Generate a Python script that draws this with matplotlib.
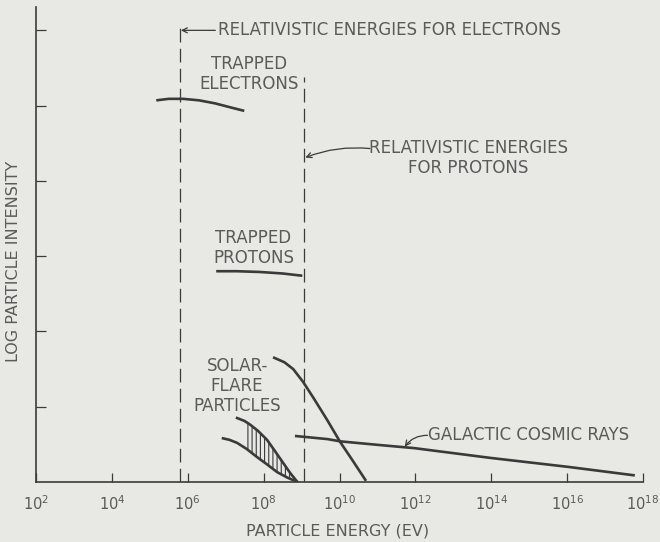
import numpy as np
import matplotlib
matplotlib.use("Agg")
import matplotlib.pyplot as plt

# ---- data (log10 energy in eV, log intensity in arbitrary units) ----
x_ticks_exp = [2, 4, 6, 8, 10, 12, 14, 16, 18]
y_ticks = [1, 2, 3, 4, 5, 6]

electrons_logE = [5.17, 5.50, 5.88, 6.30, 6.72, 7.10, 7.49]
electrons_I = [5.07, 5.09, 5.09, 5.07, 5.03, 4.98, 4.93]

protons_logE = [6.75, 7.30, 7.90, 8.50, 9.02]
protons_I = [2.80, 2.80, 2.79, 2.77, 2.74]

flare_upper_logE = [7.30, 7.50, 7.65, 7.85, 8.09, 8.30, 8.52, 8.70, 8.89]
flare_upper_I = [0.85, 0.81, 0.76, 0.68, 0.56, 0.41, 0.25, 0.12, 0.00]
flare_lower_logE = [6.93, 7.10, 7.30, 7.55, 7.83, 8.10, 8.36, 8.62, 8.89]
flare_lower_I = [0.58, 0.56, 0.52, 0.44, 0.33, 0.23, 0.13, 0.06, 0.00]

steep_logE = [8.28, 8.55, 8.78, 9.04, 9.31, 9.68, 10.02, 10.34, 10.68]
steep_I = [1.65, 1.59, 1.50, 1.33, 1.12, 0.82, 0.53, 0.29, 0.03]

galactic_logE = [8.86, 9.68, 10.02, 11.08, 11.97, 13.98, 16.04, 17.75]
galactic_I = [0.61, 0.57, 0.54, 0.49, 0.45, 0.32, 0.20, 0.09]

electron_rel_logE = 5.79
proton_rel_logE = 9.07

# ---- style ----
BG = "#e8e8e4"
INK = "#3a3a3a"
TXT = "#5a5a5a"
plt.rcParams["font.family"] = ["DejaVu Sans"]
plt.rcParams["hatch.linewidth"] = 0.8

fig = plt.figure(figsize=(6.6, 5.42), dpi=100, facecolor=BG)
W, H = 660, 542
ax = fig.add_axes([36 / W, (H - 482) / H, (643 - 36) / W, (482 - 7) / H])
ax.set_facecolor(BG)
ax.set_xscale("log")
ax.set_xlim(1e2, 1e18)
ax.set_ylim(0, 6.31)

for s in ["top", "right"]:
    ax.spines[s].set_visible(False)
for s in ["left", "bottom"]:
    ax.spines[s].set_color(INK)
    ax.spines[s].set_linewidth(1.2)

ax.set_xticks([10.0 ** e for e in x_ticks_exp])
ax.set_xticklabels([r"$\mathregular{10^{%d}}$" % e for e in x_ticks_exp])
ax.xaxis.set_minor_locator(matplotlib.ticker.NullLocator())
ax.tick_params(axis="x", direction="in", length=6.5, width=0.9, color=INK,
               labelsize=10.5, labelcolor=TXT, pad=9)
ax.set_yticks(y_ticks)
ax.set_yticklabels([])
ax.tick_params(axis="y", direction="in", length=7, width=0.9, color=INK)

fs = 12
fig.text(338 / W, 1 - 531 / H, "PARTICLE ENERGY (EV)", ha="center", va="center",
         fontsize=11.5, color=TXT)
fig.text(14 / W, 1 - 261 / H, "LOG PARTICLE INTENSITY", ha="center", va="center",
         rotation=90, fontsize=11.5, color=TXT)

def E(v):
    return 10.0 ** np.asarray(v)

lw = 1.9
ax.plot(E(electrons_logE), electrons_I, color=INK, lw=lw, solid_capstyle="butt")
ax.plot(E(protons_logE), protons_I, color=INK, lw=lw, solid_capstyle="butt")
ax.plot(E(flare_upper_logE), flare_upper_I, color=INK, lw=lw)
ax.plot(E(flare_lower_logE), flare_lower_I, color=INK, lw=lw)
ax.plot(E(steep_logE), steep_I, color=INK, lw=lw)
ax.plot(E(galactic_logE), galactic_I, color=INK, lw=lw)

# hatched region between the solar-flare curves
start = 7.50
poly_x = [x for x in flare_upper_logE if x >= start] + \
         [x for x in flare_lower_logE[::-1] if x >= start]
poly_y = [y for x, y in zip(flare_upper_logE, flare_upper_I) if x >= start] + \
         [y for x, y in zip(flare_lower_logE[::-1], flare_lower_I[::-1]) if x >= start]
ax.fill(E(poly_x), poly_y, facecolor="none", edgecolor=INK, hatch="||||", linewidth=0)

# relativistic limits
ax.plot([E(electron_rel_logE)] * 2, [0, 6.04], color=INK, lw=0.9, dashes=(11, 5))
ax.plot([E(proton_rel_logE)] * 2, [0, 5.38], color=INK, lw=0.9, dashes=(11, 5))

ax.annotate("RELATIVISTIC ENERGIES FOR ELECTRONS",
            xy=(E(electron_rel_logE + 0.03), 6.0), xytext=(E(6.80), 6.0),
            ha="left", va="center", fontsize=fs, color=TXT,
            arrowprops=dict(arrowstyle="->", color=INK, lw=0.9,
                            shrinkA=0, shrinkB=0, mutation_scale=9))
ax.text(E(7.62), 5.42, "TRAPPED\nELECTRONS", ha="center", va="center",
        fontsize=fs, color=TXT, linespacing=1.15)
ax.text(E(13.40), 4.31, "RELATIVISTIC ENERGIES\nFOR PROTONS", ha="center",
        va="center", fontsize=fs, color=TXT, linespacing=1.15)
ax.annotate("", xy=(E(proton_rel_logE + 0.03), 4.31), xytext=(E(10.80), 4.43),
            arrowprops=dict(arrowstyle="->", color=INK, lw=0.9, shrinkA=0,
                            shrinkB=0, mutation_scale=9,
                            connectionstyle="arc3,rad=0.12"))
ax.text(E(7.73), 3.11, "TRAPPED\nPROTONS", ha="center", va="center",
        fontsize=fs, color=TXT, linespacing=1.15)
ax.text(E(7.30), 1.27, "SOLAR-\nFLARE\nPARTICLES", ha="center", va="center",
        fontsize=fs, color=TXT, linespacing=1.15)
ax.text(E(12.34), 0.62, "GALACTIC COSMIC RAYS", ha="left", va="center",
        fontsize=fs, color=TXT)
ax.annotate("", xy=(E(11.72), 0.47), xytext=(E(12.32), 0.62),
            arrowprops=dict(arrowstyle="->", color=INK, lw=0.9, shrinkA=0,
                            shrinkB=0, mutation_scale=9,
                            connectionstyle="arc3,rad=0.25"))

fig.savefig("out.png", dpi=100, facecolor=BG)
